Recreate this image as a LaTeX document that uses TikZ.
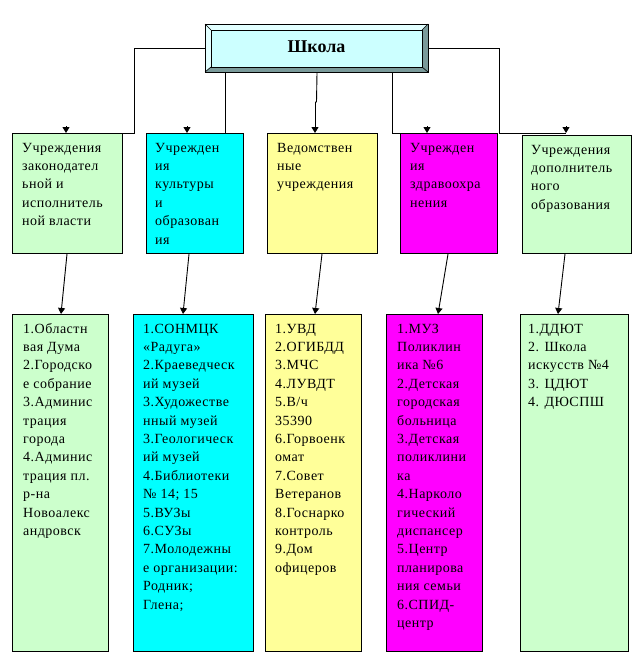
\documentclass[tikz,border=0pt]{standalone}
\usepackage{fontspec}
\setmainfont{Liberation Serif}
\newfontfamily\boxfont{Liberation Serif}[LetterSpace=3.5]
\usetikzlibrary{arrows.meta,calc}
\definecolor{lgreen}{HTML}{CCFFCC}
\definecolor{lcyan}{HTML}{00FFFF}
\definecolor{lyellow}{HTML}{FFFF99}
\definecolor{lmagenta}{HTML}{FF00FF}
\definecolor{schoolfill}{HTML}{CCFFFF}
\definecolor{bevlight}{HTML}{E2FFFF}
\definecolor{bevdark}{HTML}{7A9A9A}
\begin{document}
\begin{tikzpicture}[x=1pt,y=-1pt,
  boxnode/.style={draw=black, line width=1pt, anchor=north west, inner sep=0pt, rectangle},
  txt/.style={anchor=north west, inner sep=0pt, align=left, font=\boxfont\fontsize{14}{18.4}\selectfont},
  conn/.style={draw=black, line width=0.9pt},
  arr/.style={conn, -{Triangle[width=7pt,length=6pt]}}]
\useasboundingbox[fill=white] (0,0) rectangle (640,653);

% ---- School box with bevel ----
\node[boxnode, fill=schoolfill, minimum width=223pt, minimum height=48pt] (school) at (205,24) {};
\fill[bevlight] (205,24) -- (428,24) -- (422,30) -- (211,30) -- cycle;
\fill[bevlight] (205,24) -- (211,30) -- (211,67) -- (205,72) -- cycle;
\fill[bevdark] (428,24) -- (428,72) -- (422,67) -- (422,30) -- cycle;
\fill[bevdark] (205,72) -- (428,72) -- (422,67) -- (211,67) -- cycle;
\draw[line width=0.6pt] (205,24) -- (211,30) (428,24) -- (422,30) (205,72) -- (211,67) (428,72) -- (422,67);
\draw[line width=1pt] (205,24) rectangle (428,72);
\node[boxnode, fill=schoolfill, minimum width=211pt, minimum height=37pt] (schoolin) at (211,30) {};
\node[font=\bfseries\fontsize{18}{20}\selectfont, inner sep=0pt] (schooltext) at (316.5,47) {Школа};

% ---- Top boxes ----
\node[boxnode, fill=lgreen,   minimum width=110pt, minimum height=120pt] (t1) at (12,133) {};
\node[boxnode, fill=lcyan,    minimum width=97pt,  minimum height=120pt] (t2) at (146,133) {};
\node[boxnode, fill=lyellow,  minimum width=110pt, minimum height=120pt] (t3) at (267,133) {};
\node[boxnode, fill=lmagenta, minimum width=97pt,  minimum height=120pt] (t4) at (400,133) {};
\node[boxnode, fill=lgreen,   minimum width=109pt, minimum height=118pt] (t5) at (522,135) {};

\node[txt] (t1t) at (22,139) {\strut Учреждения\\законодател\\ьной и\\исполнитель\\ной власти};
\node[txt] (t2t) at (155,139) {\strut Учрежден\\ия\\культуры\\и\\образован\\ия};
\node[txt] (t3t) at (277,139) {\strut Ведомствен\\ные\\учреждения};
\node[txt] (t4t) at (410,139) {\strut Учрежден\\ия\\здравоохра\\нения};
\node[txt] (t5t) at (531,141) {\strut Учреждения\\дополнитель\\ного\\образования};

% ---- Bottom boxes ----
\node[boxnode, fill=lgreen,   minimum width=96pt,  minimum height=337pt] (b1) at (12,314) {};
\node[boxnode, fill=lcyan,    minimum width=120pt, minimum height=337pt] (b2) at (133,314) {};
\node[boxnode, fill=lyellow,  minimum width=96pt,  minimum height=337pt] (b3) at (265,314) {};
\node[boxnode, fill=lmagenta, minimum width=96pt,  minimum height=337pt] (b4) at (386,314) {};
\node[boxnode, fill=lgreen,   minimum width=108pt, minimum height=337pt] (b5) at (520,314) {};

\node[txt] (b1t) at (23,320) {\strut 1.Областн\\вая Дума\\2.Городско\\е собрание\\3.Админис\\трация\\города\\4.Админис\\трация пл.\\р-на\\Новоалекс\\андровск};
\node[txt] (b2t) at (143,320) {\strut 1.СОНМЦК\\«Радуга»\\2.Краеведческ\\ий музей\\3.Художестве\\нный музей\\3.Геологическ\\ий музей\\4.Библиотеки\\№ 14; 15\\5.ВУЗы\\6.СУЗы\\7.Молодежны\\е организации:\\Родник;\\Глена;};
\node[txt] (b3t) at (275,320) {\strut 1.УВД\\2.ОГИБДД\\3.МЧС\\4.ЛУВДТ\\5.В/ч\\35390\\6.Горвоенк\\омат\\7.Совет\\Ветеранов\\8.Госнарко\\контроль\\9.Дом\\офицеров};
\node[txt] (b4t) at (397,320) {\strut 1.МУЗ\\Поликлин\\ика №6\\2.Детская\\городская\\больница\\3.Детская\\поликлини\\ка\\4.Нарколо\\гический\\диспансер\\5.Центр\\планирова\\ния семьи\\6.СПИД-\\центр};
\node[txt] (b5t) at (528,320) {\strut 1.ДДЮТ\\2. Школа\\искусств №4\\3. ЦДЮТ\\4. ДЮСПШ};

% ---- Connector end points ----
\coordinate (a1) at ($(t1.north west)+(54,0)$);
\coordinate (a2) at ($(t2.north west)+(41,0)$);
\coordinate (a3) at ($(t3.north west)+(48,0)$);
\coordinate (a4) at ($(t4.north west)+(27,0)$);
\coordinate (a5) at ($(t5.north west)+(44,-2)$);
\coordinate (s2) at ($(school.south west)+(20,0)$);
\coordinate (s4) at ($(school.south west)+(187,0)$);

% ---- Connectors from school ----
\draw[conn] (school.west) -| (134,133) -- (a1);
\draw[arr] ($(a1)+(0,-7)$) -- (a1);
\draw[conn] (s2) |- (a2);
\draw[arr] ($(a2)+(0,-7)$) -- (a2);
\draw[conn] (school.south) -- (316.5,102) -- (315,102);
\draw[arr] (315,102) -- (315,133);
\draw[conn] (s4) |- (a4);
\draw[arr] ($(a4)+(0,-7)$) -- (a4);
\draw[conn] (school.east) -| (499,133) -- (a5);
\draw[arr] ($(a5)+(0,-7)$) -- (a5);

% ---- Connectors top -> bottom ----
\draw[arr] ($(t1.south west)+(55,0)$) -- ($(b1.north west)+(49,0)$);
\draw[arr] ($(t2.south west)+(43,0)$) -- ($(b2.north west)+(50,0)$);
\draw[arr] ($(t3.south west)+(55,0)$) -- ($(b3.north west)+(50,0)$);
\draw[arr] ($(t4.south west)+(48,0)$) -- ($(b4.north west)+(52,0)$);
\draw[arr] ($(t5.south west)+(43,0)$) -- ($(b5.north west)+(38,0)$);
\end{tikzpicture}
\end{document}
